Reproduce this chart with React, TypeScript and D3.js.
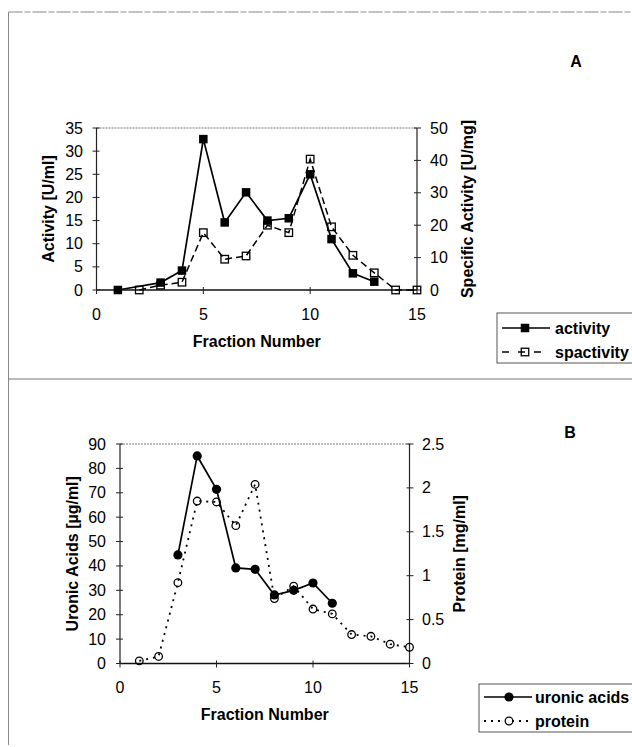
import React from "react";
import * as d3 from "d3";

// Panel A data
const fracActivity = [1, 3, 4, 5, 6, 7, 8, 9, 10, 11, 12, 13];
const activity = [0, 1.6, 4.2, 32.6, 14.6, 21.1, 15.0, 15.5, 25.0, 11.0, 3.6, 1.8];
const fracSpActivity = [2, 3, 4, 5, 6, 7, 8, 9, 10, 11, 12, 13, 14, 15];
const spActivity = [0, 1.5, 2.4, 17.7, 9.5, 10.5, 20, 17.7, 40.4, 19.5, 10.7, 5.3, 0, 0];

// Panel B data
const fracUronic = [3, 4, 5, 6, 7, 8, 9, 10, 11];
const uronic = [44.5, 85.1, 71.4, 39.2, 38.6, 28.1, 30, 33, 24.7];
const fracProtein = [1, 2, 3, 4, 5, 6, 7, 8, 9, 10, 11, 12, 13, 14, 15];
const protein = [0.03, 0.08, 0.92, 1.85, 1.84, 1.57, 2.04, 0.74, 0.88, 0.62, 0.565, 0.33, 0.31, 0.22, 0.185];

const xTicks = [0, 5, 10, 15];
const aLeftTicks = [0, 5, 10, 15, 20, 25, 30, 35];
const aRightTicks = [0, 10, 20, 30, 40, 50];
const bLeftTicks = [0, 10, 20, 30, 40, 50, 60, 70, 80, 90];
const bRightTicks = [0, 0.5, 1, 1.5, 2, 2.5];

const FONT = "'Liberation Sans', Arial, sans-serif";
const TICK_FS = 16;

type Pt = [number, number];

function Axes(props: {
  x: d3.ScaleLinear<number, number>;
  yl: d3.ScaleLinear<number, number>;
  yr: d3.ScaleLinear<number, number>;
  leftTicks: number[];
  rightTicks: number[];
  leftLabel: string;
  rightLabel: string;
  leftLabelX: number;
  rightLabelX: number;
  leftTickX: number;
  rightTickX: number;
}) {
  const { x, yl, yr } = props;
  const [x0, x1] = x.range();
  const [yb, yt] = yl.range();
  const fmt = (v: number) => String(v);
  const midY = (yb + yt) / 2;
  return (
    <g fontFamily={FONT}>
      <line x1={x0} x2={x1} y1={yt} y2={yt} stroke="#777" strokeWidth={1} strokeDasharray="2,1" />
      <line x1={x0} x2={x0} y1={yt} y2={yb} stroke="#222" strokeWidth={1.2} />
      <line x1={x1} x2={x1} y1={yt} y2={yb} stroke="#222" strokeWidth={1.2} />
      <line x1={x0} x2={x1} y1={yb} y2={yb} stroke="#111" strokeWidth={1.5} />
      {props.leftTicks.map((t) => (
        <g key={"l" + t}>
          <line x1={x0 - 4} x2={x0 + 3} y1={yl(t)} y2={yl(t)} stroke="#222" strokeWidth={1} />
          <text x={props.leftTickX} y={yl(t)} textAnchor="end" dominantBaseline="central" fontSize={TICK_FS}>
            {fmt(t)}
          </text>
        </g>
      ))}
      {props.rightTicks.map((t) => (
        <g key={"r" + t}>
          <line x1={x1 - 3} x2={x1 + 4} y1={yr(t)} y2={yr(t)} stroke="#222" strokeWidth={1} />
          <text x={props.rightTickX} y={yr(t)} textAnchor="start" dominantBaseline="central" fontSize={TICK_FS}>
            {fmt(t)}
          </text>
        </g>
      ))}
      {xTicks.map((t) => (
        <g key={"x" + t}>
          <line x1={x(t)} x2={x(t)} y1={yb - 3} y2={yb + 4} stroke="#222" strokeWidth={1} />
          <text x={x(t)} y={yb + 24} textAnchor="middle" dominantBaseline="central" fontSize={TICK_FS}>
            {fmt(t)}
          </text>
        </g>
      ))}
      <text x={(x0 + x1) / 2} y={yb + 51} textAnchor="middle" dominantBaseline="central" fontSize={16} fontWeight="bold">
        Fraction Number
      </text>
      <text
        transform={`translate(${props.leftLabelX},${midY}) rotate(-90)`}
        textAnchor="middle"
        dominantBaseline="central"
        fontSize={16}
        fontWeight="bold"
      >
        {props.leftLabel}
      </text>
      <text
        transform={`translate(${props.rightLabelX},${midY}) rotate(-90)`}
        textAnchor="middle"
        dominantBaseline="central"
        fontSize={16}
        fontWeight="bold"
      >
        {props.rightLabel}
      </text>
    </g>
  );
}

export default function App() {
  const xA = d3.scaleLinear().domain([0, 15]).range([96.5, 417]);
  const yAL = d3.scaleLinear().domain([0, 35]).range([290, 128]);
  const yAR = d3.scaleLinear().domain([0, 50]).range([290, 128]);
  const xB = d3.scaleLinear().domain([0, 15]).range([120, 409.5]);
  const yBL = d3.scaleLinear().domain([0, 90]).range([663.5, 444]);
  const yBR = d3.scaleLinear().domain([0, 2.5]).range([663.5, 444]);

  const line = d3.line<Pt>().x((d) => d[0]).y((d) => d[1]);

  const actPts: Pt[] = fracActivity.map((f, i) => [xA(f), yAL(activity[i])]);
  const spPts: Pt[] = fracSpActivity.map((f, i) => [xA(f), yAR(spActivity[i])]);
  const urPts: Pt[] = fracUronic.map((f, i) => [xB(f), yBL(uronic[i])]);
  const prPts: Pt[] = fracProtein.map((f, i) => [xB(f), yBR(protein[i])]);

  const sq = 8.5;
  const sqH = 7.5;

  return (
    <svg width={632} height={747} style={{ position: "absolute", left: 0, top: 0 }}>
      <rect x={0} y={0} width={632} height={747} fill="#fff" />
      <line x1={8.5} x2={632} y1={12} y2={12} stroke="#888" strokeWidth={1} strokeDasharray="14,2,6,2" />
      <line x1={8.5} x2={8.5} y1={12} y2={745} stroke="#888" strokeWidth={1} />
      <line x1={8.5} x2={632} y1={379} y2={379} stroke="#777" strokeWidth={1} />

      {/* Panel A */}
      <text x={576} y={61} textAnchor="middle" dominantBaseline="central" fontFamily={FONT} fontSize={16} fontWeight="bold">
        A
      </text>
      <Axes
        x={xA}
        yl={yAL}
        yr={yAR}
        leftTicks={aLeftTicks}
        rightTicks={aRightTicks}
        leftLabel="Activity [U/ml]"
        rightLabel="Specific Activity [U/mg]"
        leftLabelX={48}
        rightLabelX={467}
        leftTickX={83}
        rightTickX={430}
      />
      <path d={line(actPts) || ""} fill="none" stroke="#000" strokeWidth={1.7} />
      <path d={line(spPts) || ""} fill="none" stroke="#000" strokeWidth={1.5} strokeDasharray="7,4" />
      {actPts.map((p, i) => (
        <rect key={"a" + i} x={p[0] - sq / 2} y={p[1] - sq / 2} width={sq} height={sq} fill="#000" />
      ))}
      {spPts.map((p, i) => (
        <rect key={"s" + i} x={p[0] - sqH / 2} y={p[1] - sqH / 2} width={sqH} height={sqH} fill="none" stroke="#000" strokeWidth={1.3} />
      ))}
      <g fontFamily={FONT}>
        <rect x={497} y={313} width={140} height={50} fill="#fff" stroke="#555" strokeWidth={1} />
        <line x1={502} x2={550} y1={328} y2={328} stroke="#000" strokeWidth={1.7} />
        <rect x={525 - sq / 2} y={328 - sq / 2} width={sq} height={sq} fill="#000" />
        <text x={555} y={328} dominantBaseline="central" fontSize={16} fontWeight="bold">activity</text>
        <line x1={502} x2={550} y1={352} y2={352} stroke="#000" strokeWidth={1.5} strokeDasharray="7,9" />
        <rect x={525 - sqH / 2} y={352 - sqH / 2} width={sqH} height={sqH} fill="none" stroke="#000" strokeWidth={1.3} />
        <text x={555} y={352} dominantBaseline="central" fontSize={16} fontWeight="bold">spactivity</text>
      </g>

      {/* Panel B */}
      <text x={570} y={432} textAnchor="middle" dominantBaseline="central" fontFamily={FONT} fontSize={16} fontWeight="bold">
        B
      </text>
      <Axes
        x={xB}
        yl={yBL}
        yr={yBR}
        leftTicks={bLeftTicks}
        rightTicks={bRightTicks}
        leftLabel="Uronic Acids [µg/ml]"
        rightLabel="Protein [mg/ml]"
        leftLabelX={72}
        rightLabelX={459}
        leftTickX={106}
        rightTickX={422}
      />
      <path d={line(urPts) || ""} fill="none" stroke="#000" strokeWidth={1.7} />
      <path d={line(prPts) || ""} fill="none" stroke="#000" strokeWidth={1.8} strokeDasharray="2,5" />
      {urPts.map((p, i) => (
        <circle key={"u" + i} cx={p[0]} cy={p[1]} r={4.6} fill="#000" />
      ))}
      {prPts.map((p, i) => (
        <circle key={"p" + i} cx={p[0]} cy={p[1]} r={3.8} fill="none" stroke="#000" strokeWidth={1.3} />
      ))}
      <g fontFamily={FONT}>
        <rect x={479} y={684} width={160} height={48} fill="#fff" stroke="#555" strokeWidth={1} />
        <line x1={484} x2={532} y1={697} y2={697} stroke="#000" strokeWidth={1.7} />
        <circle cx={509} cy={697} r={4.6} fill="#000" />
        <text x={535} y={697} dominantBaseline="central" fontSize={16} fontWeight="bold">uronic acids</text>
        <line x1={484} x2={532} y1={721} y2={721} stroke="#000" strokeWidth={1.8} strokeDasharray="2,5" />
        <circle cx={509} cy={721} r={3.8} fill="#fff" stroke="#000" strokeWidth={1.3} />
        <text x={535} y={721} dominantBaseline="central" fontSize={16} fontWeight="bold">protein</text>
      </g>
    </svg>
  );
}
